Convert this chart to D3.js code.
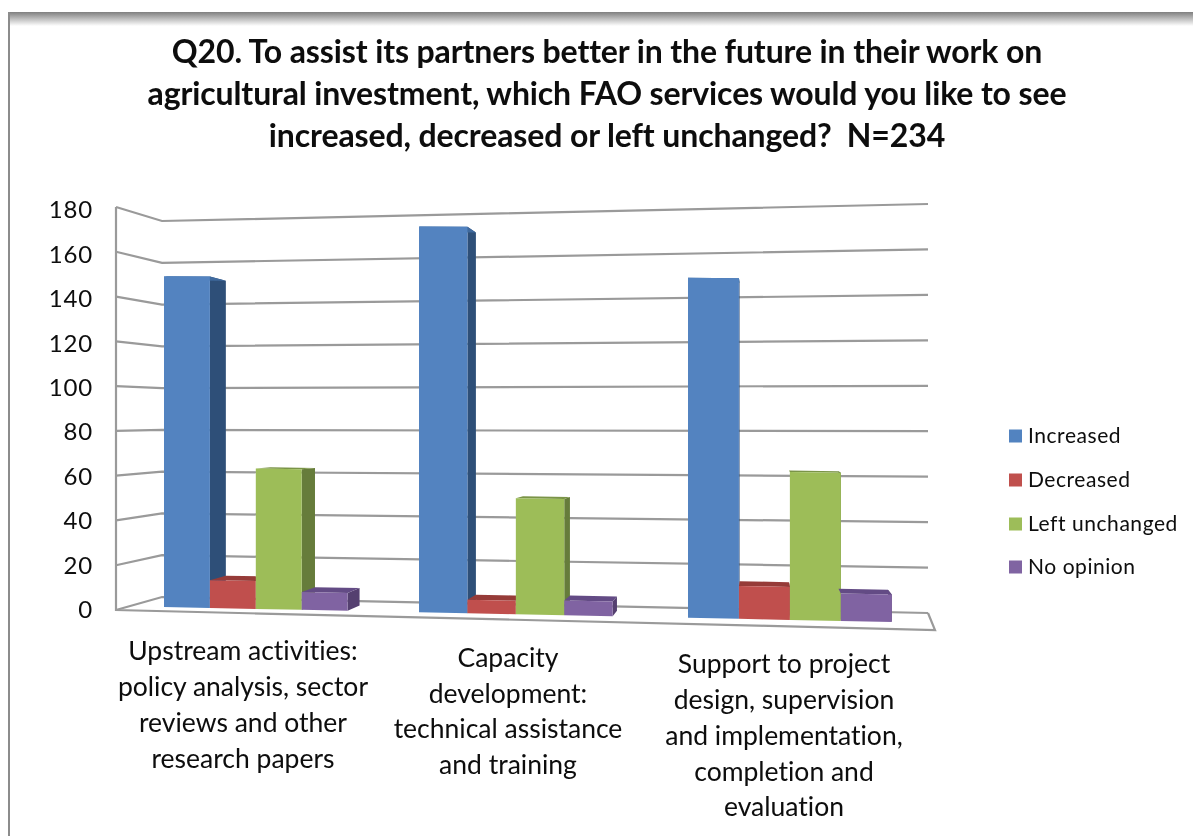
<!DOCTYPE html>
<html><head><meta charset="utf-8">
<script src="https://cdnjs.cloudflare.com/ajax/libs/d3/7.8.5/d3.min.js"></script>
<style>html,body{margin:0;padding:0;background:#fff}svg{display:block}text{font-family:Lato,"Open Sans",sans-serif;fill:#0a0a0a;font-variant-ligatures:none;white-space:pre}</style>
</head><body><svg id="c" width="1193" height="836"></svg>
<script>
const titleLines=["Q20. To assist its partners better in the future in their work on","agricultural investment, which FAO services would you like to see","increased, decreased or left unchanged?  N=234"];
const categories=[
 ["Upstream activities:","policy analysis, sector","reviews and other","research papers"],
 ["Capacity","development:","technical assistance","and training"],
 ["Support to project","design, supervision","and implementation,","completion and","evaluation"]];
const seriesNames=["Increased","Decreased","Left unchanged","No opinion"];
const seriesColors=["#5283c0","#c0504d","#9dbd59","#8064a2"];
const sideColors=["#2f5078","#8a3634","#667c3a","#543f70"];
const topColors=["#3f6a9e","#963b39","#7a9446","#644c85"];
const increased=[149,172,150];
const decreased=[12.5,6,14.5];
const leftUnchanged=[63,51.5,65];
const noOpinion=[8,6.5,12];
const series=[increased,decreased,leftUnchanged,noOpinion];
const ticks=[0,20,40,60,80,100,120,140,160,180];

const svg=d3.select("#c");
const defs=svg.append("defs");
const g0=defs.append("linearGradient").attr("id","band").attr("x1",0).attr("x2",0).attr("y1",0).attr("y2",1);
g0.append("stop").attr("offset",0).attr("stop-color","#7f7f7f");
g0.append("stop").attr("offset",1).attr("stop-color","#ffffff");
defs.append("filter").attr("id","soft").attr("x","-5%").attr("y","-5%").attr("width","110%").attr("height","110%")
  .append("feGaussianBlur").attr("stdDeviation",0.7);
defs.append("filter").attr("id","softText").attr("x","-5%").attr("y","-5%").attr("width","110%").attr("height","110%")
  .append("feGaussianBlur").attr("stdDeviation",0.35);

// frame
svg.append("rect").attr("x",8).attr("y",12).attr("width",1185).attr("height",14).attr("fill","url(#band)");
svg.append("rect").attr("x",8).attr("y",12).attr("width",2).attr("height",824).attr("fill","#8c8c8c");

// title
svg.append("g").attr("filter","url(#softText)").selectAll("text").data(titleLines).join("text")
  .attr("x",607).attr("y",(d,i)=>[63,105,147][i]).attr("text-anchor","middle")
  .attr("font-weight",700).attr("font-size",32).attr("letter-spacing",-0.12).text(d=>d);

// scales
const yWall=d3.scaleLinear().domain([0,180]).range([610,207]);
const yBackL=d3.scaleLinear().domain([0,180]).range([597,221]);
const yBackR=d3.scaleLinear().domain([0,180]).range([613,204]);
const yTick=d3.scaleLinear().domain([0,180]).range([610,210]);
const xPlane=d3.scaleLinear().domain([0,1,2,3]).range([164,419,688,971]);
const base=d3.scaleLinear().domain([164,893]).range([607,622]);
const pxPerUnit=d3.scaleLinear().domain([164,893]).range([2.22,2.285]);
const band=0.18;
const VX=760,VY=425,K=0.029;

const chart=svg.append("g").attr("filter","url(#soft)");
const line=d3.line();
// walls & gridlines
chart.append("g").selectAll("path").data(ticks).join("path")
  .attr("d",v=>line([[116,yWall(v)],[162,yBackL(v)],[928,yBackR(v)]]))
  .attr("fill","none").attr("stroke","#9a9a9a").attr("stroke-width",2.2);
chart.append("path").attr("d",line([[116,yWall(180)],[116,yWall(0)],[935,630],[928,yBackR(0)]]))
  .attr("fill","none").attr("stroke","#9a9a9a").attr("stroke-width",2.2);

// bars
const marks=[];
categories.forEach((c,ci)=>series.forEach((vals,si)=>{marks.push({ci,si,v:vals[ci]});}));
const gBars=chart.append("g");
marks.forEach(m=>{
  const x0=xPlane(m.ci+m.si*band), x1=xPlane(m.ci+(m.si+1)*band);
  const bL=base(x0), bR=base(x1);
  const tL=bL-m.v*pxPerUnit(x0), tR=bR-m.v*pxPerUnit(x1);
  const back=(x,y)=>[x+(VX-x)*K,y+(VY-y)*K];
  const [bx0,by0]=back(x0,tL),[bx1,by1]=back(x1,tR),[bx2,by2]=back(x1,bR);
  m.parts=[
   {d:line([[x1,tR],[bx1,by1],[bx2,by2],[x1,bR]])+"Z",f:sideColors[m.si]},
   {d:line([[x0,tL],[x1,tR],[bx1,by1],[bx0,by0]])+"Z",f:topColors[m.si]},
   {d:line([[x0,tL],[x1,tR],[x1,bR],[x0,bL]])+"Z",f:seriesColors[m.si]}];
});
gBars.selectAll("g").data(marks).join("g").selectAll("path").data(d=>d.parts).join("path")
  .attr("d",d=>d.d).attr("fill",d=>d.f);

// y axis labels
const axis=d3.axisLeft(yTick).tickValues(ticks).tickSize(0).tickPadding(0);
const ga=svg.append("g").attr("transform","translate(93,0)").attr("filter","url(#softText)").call(axis);
ga.select(".domain").remove();
ga.selectAll("text").attr("font-size",24).attr("fill","#0a0a0a").style("font-family","Lato").attr("letter-spacing",0.8);

// category labels
const catX=[243,508,784];
const catY=[[660,696,732,768],[667,703,738,774],[673,709,745,781,816]];
svg.append("g").attr("filter","url(#softText)").selectAll("g").data(categories).join("g")
 .each(function(lines,ci){
  d3.select(this).selectAll("text").data(lines).join("text")
   .attr("x",catX[ci]).attr("y",(d,i)=>catY[ci][i]).attr("text-anchor","middle")
   .attr("font-size",26.5).text(d=>d);
 });

// legend
const legY=[436,480,524,567];
const leg=svg.append("g").selectAll("g").data(seriesNames).join("g");
leg.append("rect").attr("x",1009).attr("y",(d,i)=>legY[i]-6.5).attr("width",13).attr("height",13).attr("fill",(d,i)=>seriesColors[i]);
leg.append("text").attr("x",1028).attr("y",(d,i)=>legY[i]+7).attr("font-size",21).attr("letter-spacing",0.55).attr("filter","url(#softText)").text(d=>d);
</script></body></html>
